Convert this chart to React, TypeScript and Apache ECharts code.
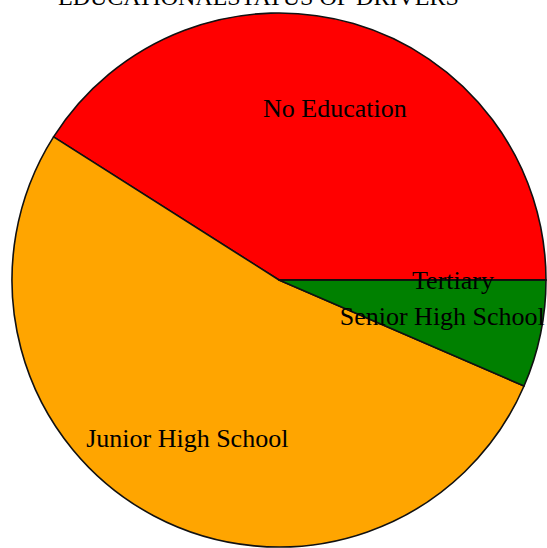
import React, { useEffect, useRef } from "react";
import * as echarts from "echarts";

const categories = ["No Education", "Junior High School", "Senior High School", "Tertiary"];
const values = [41, 52.5, 6.5, 0];
const colors = ["#ff0000", "#ffa500", "#008000", "#0000ff"];
const titleText = "EDUCATIONALSTATUS OF DRIVERS";

export default function App() {
  const ref = useRef<HTMLDivElement>(null);
  useEffect(() => {
    if (!ref.current) return;
    const chart = echarts.init(ref.current, null, { renderer: "svg" });
    const data = categories.map((name, i) => ({
      name,
      value: values[i],
      itemStyle: { color: colors[i] },
    }));
    const labelShift = [6, -8, -12, -5];
    chart.setOption({
      animation: false,
      title: {
        text: titleText,
        left: 58,
        top: -15,
        padding: 0,
        textStyle: {
          fontFamily: "'Liberation Serif', serif",
          fontSize: 24,
          fontWeight: "normal",
          color: "#000",
        },
      },
      series: [
        {
          type: "pie",
          center: [279, 280],
          radius: [0, 267],
          startAngle: 0,
          clockwise: false,
          silent: true,
          label: { show: false },
          labelLine: { show: false },
          itemStyle: { borderColor: "#111", borderWidth: 1.6 },
          data,
        },
        {
          type: "pie",
          center: [279, 280],
          radius: [0, 352],
          startAngle: 0,
          clockwise: false,
          silent: true,
          itemStyle: { color: "rgba(0,0,0,0)", borderWidth: 0 },
          label: {
            show: true,
            position: "inside",
            formatter: "{b}",
            fontFamily: "'Liberation Serif', serif",
            fontSize: 26,
            color: "#000",
            textBorderWidth: 0,
          },
          labelLayout: (params: any) => ({ dx: labelShift[params.dataIndex] || 0 }),
          labelLine: { show: false },
          data: categories.map((name, i) => ({
            name,
            value: values[i],
            itemStyle: { color: "rgba(0,0,0,0)" },
          })),
        },
      ],
    });
    return () => chart.dispose();
  }, []);
  return (
    <div
      ref={ref}
      style={{ position: "absolute", left: 0, top: 0, width: 547, height: 548 }}
    />
  );
}
